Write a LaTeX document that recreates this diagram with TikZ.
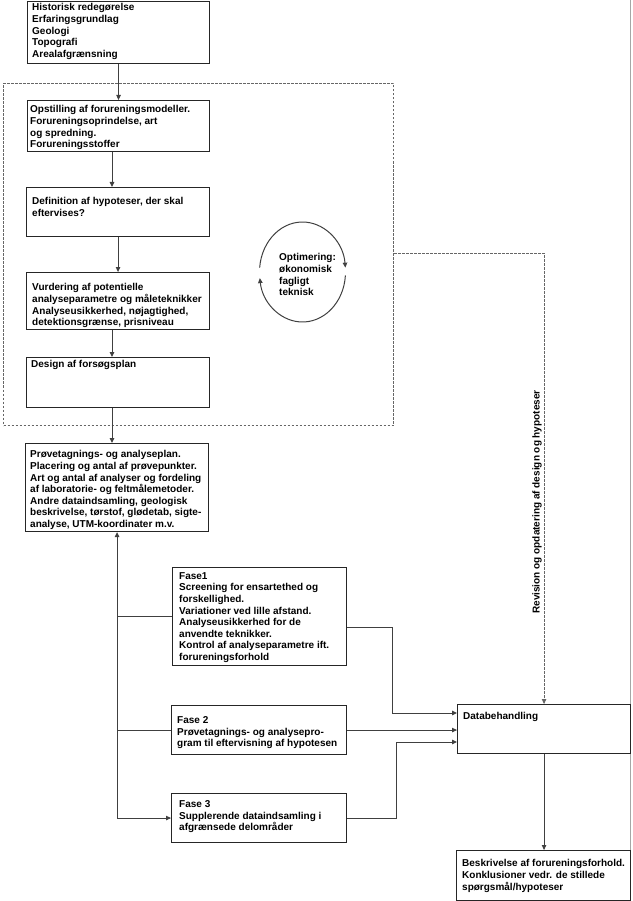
\documentclass[tikz,border=0pt]{standalone}
\usepackage{fontspec}
\setmainfont{Liberation Sans}
\usetikzlibrary{arrows.meta,calc}
\begin{document}
\begin{tikzpicture}[x=1pt,y=-1pt,
  box/.style={draw=black!85, line width=1.1pt, anchor=north west, inner sep=0pt},
  txt/.style={anchor=north west, inner sep=0pt, align=left, font=\bfseries\fontsize{10}{11.6}\selectfont},
  conn/.style={draw=black!75, line width=1pt},
  arr/.style={conn, -{Triangle[length=5pt,width=4.5pt]}},
  dashline/.style={draw=black!60, line width=1pt, dash pattern=on 2.6pt off 1.4pt},
  dasharr/.style={dashline, -{Triangle[length=5pt,width=4.5pt]}},
]
\useasboundingbox (0,0) rectangle (632,901);
% page edge line
\draw[black!35, line width=0.8pt] (630.5,0) -- (630.5,901);

% dashed frame
\node[dashline, anchor=north west, inner sep=0pt, minimum width=390pt, minimum height=342pt] (frame) at (3,83) {};

% boxes
\node[box, minimum width=182pt, minimum height=62pt] (b1) at (27,1) {};
\node[box, minimum width=182pt, minimum height=51pt] (b2) at (27,100) {};
\node[box, minimum width=183pt, minimum height=49pt] (b3) at (26,187) {};
\node[box, minimum width=183pt, minimum height=57pt] (b4) at (26,272) {};
\node[box, minimum width=183pt, minimum height=50pt] (b5) at (26,357) {};
\node[box, minimum width=183pt, minimum height=88pt] (b6) at (25,443) {};
\node[box, minimum width=174pt, minimum height=98pt] (f1) at (172,567) {};
\node[box, minimum width=175pt, minimum height=49pt] (f2) at (171,705) {};
\node[box, minimum width=175pt, minimum height=49pt] (f3) at (171,793) {};
\node[box, minimum width=173pt, minimum height=49pt] (db) at (457,704) {};
\node[box, minimum width=174pt, minimum height=50pt] (bs) at (456,850) {};

% texts
\node[txt] (t1) at (32,3.4) {Historisk redegørelse\\Erfaringsgrundlag\\Geologi\\Topografi\\Arealafgrænsning};
\node[txt] (t2) at (30,105.4) {Opstilling af forureningsmodeller.\\Forureningsoprindelse, art\\og spredning.\\Forureningsstoffer};
\node[txt] (t3) at (32,197.4) {Definition af hypoteser, der skal\\eftervises?};
\node[txt] (t4) at (32,283.4) {Vurdering af potentielle\\analyseparametre og måleteknikker\\Analyseusikkerhed, nøjagtighed,\\detektionsgrænse, prisniveau};
\node[txt] (t5) at (31,360.4) {Design af forsøgsplan};
\node[txt] (t6) at (30,450.4) {Prøvetagnings- og analyseplan.\\Placering og antal af prøvepunkter.\\Art og antal af analyser og fordeling\\af laboratorie- og feltmålemetoder.\\Andre dataindsamling, geologisk\\beskrivelse, tørstof, glødetab, sigte-\\analyse, UTM-koordinater m.v.};
\node[txt] (tf1) at (179,572.2) {Fase1\\Screening for ensartethed og\\forskellighed.\\Variationer ved lille afstand.\\Analyseusikkerhed for de\\anvendte teknikker.\\Kontrol af analyseparametre ift.\\forureningsforhold};
\node[txt] (tf2) at (177,716.4) {Fase 2\\Prøvetagnings- og analysepro-\\gram til eftervisning af hypotesen};
\node[txt] (tf3) at (179,800.4) {Fase 3\\Supplerende dataindsamling i\\afgrænsede delområder};
\node[txt] (tdb) at (463,712.4) {Databehandling};
\node[txt] (tbs) at (462,859.4) {Beskrivelse af forureningsforhold.\\Konklusioner vedr. de stillede\\spørgsmål/hypoteser};
\node[txt] (topt) at (279,253.4) {Optimering:\\økonomisk\\fagligt\\teknisk};
\node[txt, rotate=90, anchor=center] (trev) at (537,502) {Revision og opdatering af design og hypoteser};

% optimisation cycle
\coordinate (oc) at (302.5,272);
\draw[arr] ($(oc)+(175:43pt and 50pt)$) arc[start angle=175, end angle=5, x radius=43pt, y radius=50pt];
\draw[arr] ($(oc)+(-4:43pt and 50pt)$) arc[start angle=-4, end angle=-173, x radius=43pt, y radius=50pt];

% vertical chain
\coordinate (cx) at (112,0);
\draw[arr] (b1.south) -- (b2.north -| b1.south);
\draw[arr] (b2.south -| cx) -- (b3.north -| cx);
\draw[arr] (b3.south) -- (b4.north -| b3.south);
\draw[arr] (b4.south -| cx) -- (b5.north -| cx);
\draw[arr] (b5.south -| cx) -- (b6.north -| cx);

% phase feedback
\draw[arr] (f3.west -| b6.south) -- (b6.south);
\draw[arr] (f3.west -| b6.south) -- (f3.west);
\draw[conn] (f1.west -| b6.south) -- (f1.west);
\draw[conn] (f2.west -| b6.south) -- (f2.west);

% phases to data processing
\coordinate (j1) at (392,627);
\coordinate (j2) at (392,713);
\draw[arr] (f1.east |- j1) -- (j1) -- (j2) -- (db.west |- j2);
\draw[arr] (f2.east) -- (db.west |- f2.east);
\coordinate (j3) at (396,817.5);
\coordinate (j4) at (396,742);
\draw[arr] (f3.east) -- (f3.east -| j3) -- (j4) -- (db.west |- j4);

% revision dashed
\coordinate (rv) at (543,253);
\draw[dasharr] (frame.east |- rv) -- (db.north |- rv) -- (db.north);

% to description
\draw[arr] (db.south) -- (bs.north -| db.south);
\end{tikzpicture}
\end{document}
